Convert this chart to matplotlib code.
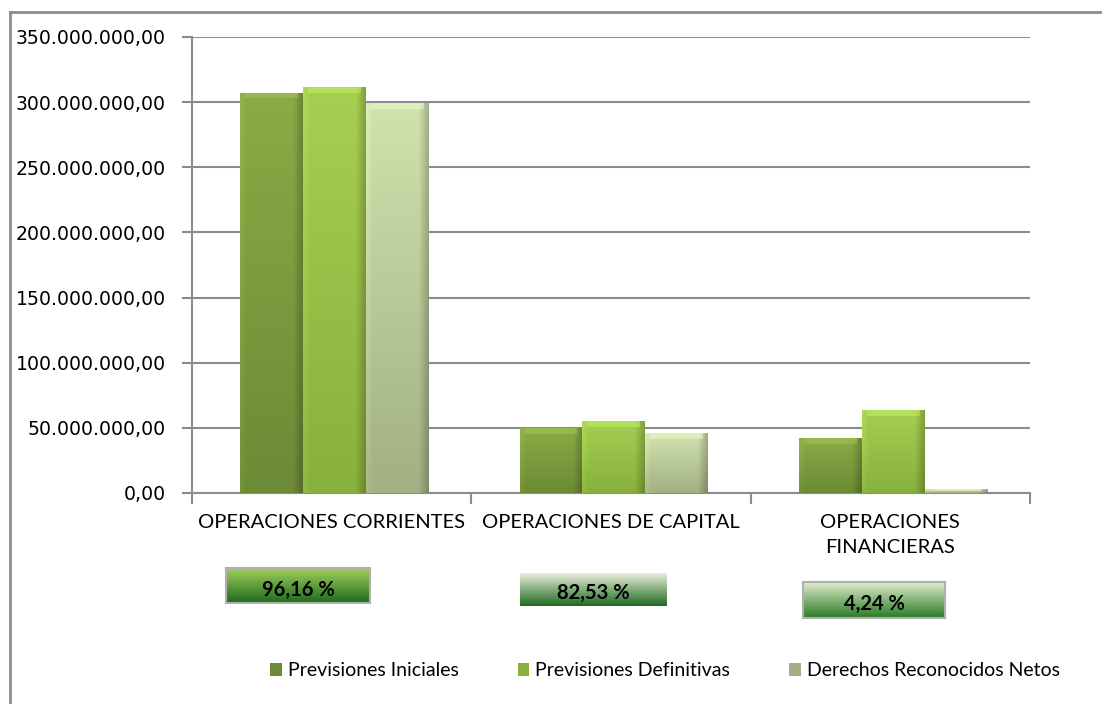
import numpy as np
import matplotlib
matplotlib.use("Agg")
import matplotlib.pyplot as plt
from matplotlib.patches import Patch, Rectangle
from matplotlib.ticker import FuncFormatter
from matplotlib.colors import to_rgb

# data (euros)
categories = ["OPERACIONES CORRIENTES", "OPERACIONES DE CAPITAL", "OPERACIONES\nFINANCIERAS"]
series_names = ["Previsiones Iniciales", "Previsiones Definitivas", "Derechos Reconocidos Netos"]
prev_iniciales = [307.3e6, 50.0e6, 42.0e6]
prev_definitivas = [311.5e6, 55.4e6, 63.8e6]
derechos_netos = [299.6e6, 45.7e6, 2.7e6]
pct_labels = ["96,16 %", "82,53 %", "4,24 %"]

# (top colour, bottom colour) for each series
series_colors = [("#8aab46", "#6d8a36"), ("#a6cf52", "#88b03c"), ("#d0e2ae", "#a2b083")]
box_colors = [("#a2d05c", "#1e6b1e"), ("#e8efda", "#1f6a1f"), ("#dfeccb", "#2a7a28")]

FONT = "Lato"


def fmt_es(v, pos=None):
    s = f"{v:,.2f}"
    return s.replace(",", "X").replace(".", ",").replace("X", ".")


def gradient_bar(ax, patch, top, bottom):
    x0, y0 = patch.get_x(), patch.get_y()
    w, h = patch.get_width(), patch.get_height()
    ny, nx = 60, 40
    t = np.linspace(0, 1, ny)[:, None, None]
    img = (1 - t) * np.array(to_rgb(top)) + t * np.array(to_rgb(bottom))
    img = np.repeat(img, nx, axis=1)
    u = np.linspace(0, 1, nx)
    shade = np.ones(nx)
    shade -= 0.22 * np.clip((u - 0.85) / 0.15, 0, 1)  # darker right edge
    shade += 0.06 * np.clip((0.1 - u) / 0.1, 0, 1)    # lighter left edge
    img = np.clip(img * shade[None, :, None], 0, 1)
    im = ax.imshow(img, extent=(x0, x0 + w, y0, y0 + h), aspect="auto",
                   origin="upper", zorder=3, interpolation="bilinear")
    im.set_clip_path(patch)
    # soft bevel highlight along the top
    bh = min(h * 0.5, 4.5e6)
    light = np.clip(np.array(to_rgb(top)) * 1.12 + 0.05, 0, 1)
    ax.add_patch(Rectangle((x0 + w * 0.08, y0 + h - bh), w * 0.84, bh,
                           facecolor=light, edgecolor="none", alpha=0.45, zorder=4))


fig = plt.figure(figsize=(11.02, 7.04), dpi=100)
ax = fig.add_axes([192 / 1102, 1 - 493 / 704, 838 / 1102, 456 / 704])

x = np.arange(len(categories))
width = 0.225
all_series = [prev_iniciales, prev_definitivas, derechos_netos]
for i, (vals, (top, bottom)) in enumerate(zip(all_series, series_colors)):
    bars = ax.bar(x + (i - 1) * width + 0.01, vals, width, color="none",
                  edgecolor="none", zorder=3)
    for p in bars:
        gradient_bar(ax, p, top, bottom)

ax.set_xlim(-0.5, 2.5)
ax.set_ylim(0, 350e6)
ax.set_yticks(np.arange(0, 350e6 + 1, 50e6))
ax.yaxis.set_major_formatter(FuncFormatter(fmt_es))
ax.grid(axis="y", color="#8c8c8c", linewidth=1.5, zorder=0)
ax.set_axisbelow(True)

ax.set_xticks([-0.5, 0.5, 1.5, 2.5], minor=False)
ax.set_xticklabels([])
for xi, lab in zip(x, categories):
    ax.text(xi, -16e6, lab, ha="center", va="top", fontsize=14.5,
            family=FONT, color="black", linespacing=1.55)

for s in ["top", "right"]:
    ax.spines[s].set_visible(False)
for s in ["left", "bottom"]:
    ax.spines[s].set_color("#8c8c8c")
    ax.spines[s].set_linewidth(1.5)
ax.tick_params(axis="y", length=7, width=1.5, color="#8c8c8c", labelsize=13.6,
               pad=12)
ax.tick_params(axis="x", length=8, width=1.5, color="#8c8c8c", direction="out")
for lab in ax.get_yticklabels():
    lab.set_family("DejaVu Sans")

# percentage boxes (pixel positions in the figure)
box_px = [(226, 568, 370, 603, True), (520, 573, 667, 606, False), (803, 582, 945, 618, True)]
for (l, t_, r, b, border), (c_top, c_bot), txt in zip(box_px, box_colors, pct_labels):
    bax = fig.add_axes([l / 1102, 1 - b / 704, (r - l) / 1102, (b - t_) / 704])
    tt = np.linspace(0, 1, 50)[:, None, None]
    img = (1 - tt) * np.array(to_rgb(c_top)) + tt * np.array(to_rgb(c_bot))
    img = np.repeat(img, 4, axis=1)
    bax.imshow(img, aspect="auto", extent=(0, 1, 0, 1), interpolation="bilinear")
    bax.set_xticks([])
    bax.set_yticks([])
    for sp in bax.spines.values():
        sp.set_visible(border)
        sp.set_color("#b0b0b0")
        sp.set_linewidth(1.5)
    bax.text(0.5, 0.38, txt, ha="center", va="center", fontsize=14.5,
             fontweight="bold", family=FONT, color="black")

# legend
handles = [Patch(facecolor=c[1], edgecolor="none") for c in series_colors]
fig.legend(handles, series_names, loc="center", bbox_to_anchor=(665 / 1102, 1 - 671 / 704),
           ncol=3, frameon=False, prop={"family": FONT, "size": 14},
           handlelength=0.6, handleheight=0.6, handletextpad=0.3, columnspacing=3.05)

# chart frame
fig.add_artist(plt.Line2D([10 / 1102, 10 / 1102], [0, 1 - 12 / 704], color="#8c8c8c",
                          linewidth=2, transform=fig.transFigure))
fig.add_artist(plt.Line2D([10 / 1102, 1], [1 - 12 / 704, 1 - 12 / 704], color="#8c8c8c",
                          linewidth=2, transform=fig.transFigure))

fig.savefig("out.png", dpi=100)
